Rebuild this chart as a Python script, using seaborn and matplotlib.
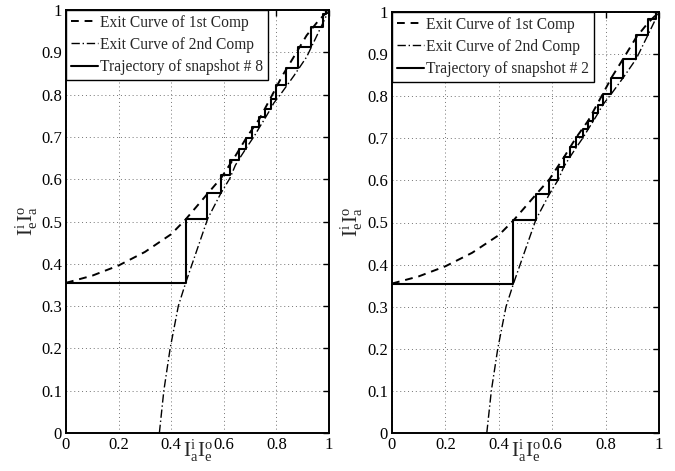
import numpy as np
import pandas as pd
import seaborn as sns
import matplotlib.pyplot as plt

# exit curve of the 1st component (dashed)
curve1_x = [0.0, 0.1, 0.2, 0.3, 0.4, 0.455, 0.54, 0.59, 0.644, 0.69, 0.735, 0.79, 0.822, 0.866, 0.915, 0.96, 1.0]
curve1_y = [0.355, 0.372, 0.396, 0.428, 0.47, 0.505, 0.567, 0.603, 0.655, 0.702, 0.742, 0.806, 0.844, 0.889, 0.94, 0.975, 1.0]

# exit curve of the 2nd component (dash-dot)
curve2_x = [0.355, 0.372, 0.396, 0.427, 0.455, 0.539, 0.589, 0.623, 0.644, 0.666, 0.691, 0.716, 0.735, 0.753,
            0.772, 0.79, 0.822, 0.866, 0.915, 0.959, 0.988, 1.0]
curve2_y = [0.0, 0.1, 0.2, 0.3, 0.355, 0.507, 0.567, 0.602, 0.633, 0.655, 0.679, 0.702, 0.722, 0.74,
            0.76, 0.78, 0.806, 0.844, 0.889, 0.946, 0.984, 1.0]

# staircase corners of the two snapshot trajectories
traj8_steps_x = [0.0, 0.455, 0.537, 0.589, 0.623, 0.658, 0.686, 0.708, 0.733, 0.756, 0.778, 0.8, 0.838, 0.882, 0.933, 0.977, 0.99]
traj8_steps_y = [0.355, 0.505, 0.567, 0.611, 0.645, 0.672, 0.698, 0.724, 0.747, 0.767, 0.79, 0.822, 0.863, 0.913, 0.96, 0.99, 1.0]

traj2_steps_x = [0.0, 0.455, 0.539, 0.589, 0.623, 0.644, 0.666, 0.691, 0.716, 0.735, 0.753, 0.772, 0.79, 0.822, 0.866, 0.915, 0.959, 0.988]
traj2_steps_y = [0.355, 0.507, 0.567, 0.602, 0.633, 0.655, 0.679, 0.702, 0.722, 0.74, 0.76, 0.78, 0.806, 0.844, 0.889, 0.946, 0.984, 1.0]

SNAPSHOTS = [8, 2]
X_TICKS = [0, 0.2, 0.4, 0.6, 0.8, 1]
Y_TICKS = [0, 0.1, 0.2, 0.3, 0.4, 0.5, 0.6, 0.7, 0.8, 0.9, 1]


def tick_fmt(v):
    return "0" if v == 0 else ("1" if v == 1 else f"{v:g}")


def staircase(xs, ys):
    # horizontal then vertical segments through the corners
    px, py = [xs[0]], [ys[0]]
    for i in range(1, len(xs)):
        px += [xs[i], xs[i]]
        py += [ys[i - 1], ys[i]]
    return pd.DataFrame({"x": px, "y": py})


sns.set_theme(style="white")
plt.rcParams["font.family"] = ["Liberation Serif", "DejaVu Serif"]
plt.rcParams["mathtext.fontset"] = "custom"
plt.rcParams["mathtext.rm"] = "Liberation Serif"
plt.rcParams["mathtext.it"] = "Liberation Serif:italic"

fig = plt.figure(figsize=(6.75, 4.71), dpi=100)
ax_l = fig.add_axes([66 / 675, 38 / 471, 263 / 675, 423 / 471])
ax_r = fig.add_axes([392 / 675, 38 / 471, 267 / 675, 421 / 471])

c1 = pd.DataFrame({"x": curve1_x, "y": curve1_y})
c2 = pd.DataFrame({"x": curve2_x, "y": curve2_y})
trajs = [staircase(traj8_steps_x, traj8_steps_y), staircase(traj2_steps_x, traj2_steps_y)]

for ax, tr, snap in zip([ax_l, ax_r], trajs, SNAPSHOTS):
    sns.lineplot(data=c1, x="x", y="y", sort=False, estimator=None, ax=ax, color="black", lw=1.4,
                 linestyle=(0, (4, 3)), label="Exit Curve of 1st Comp")
    sns.lineplot(data=c2, x="x", y="y", sort=False, estimator=None, ax=ax, color="black", lw=1.0,
                 linestyle=(0, (6, 2, 1, 2)), label="Exit Curve of 2nd Comp")
    sns.lineplot(data=tr, x="x", y="y", sort=False, estimator=None, ax=ax, color="black", lw=1.5,
                 label=f"Trajectory of snapshot # {snap}")

    ax.set_xlim(0, 1)
    ax.set_ylim(0, 1)
    ax.set_xticks(X_TICKS)
    ax.set_xticklabels([tick_fmt(v) for v in X_TICKS])
    ax.set_yticks(Y_TICKS)
    ax.set_yticklabels([tick_fmt(v) for v in Y_TICKS])
    ax.grid(True, linestyle=(0, (1, 3)), color="0.45", lw=0.7)
    ax.tick_params(direction="in", length=4, width=1, top=True, right=True,
                   labelsize=12, pad=3, color="black", labelcolor="black")
    for s in ax.spines.values():
        s.set_color("black")
        s.set_linewidth(1.4)

    ax.set_xlabel(r"$\mathrm{I}^{\mathrm{i}}_{\mathrm{a}}\mathrm{I}^{\mathrm{o}}_{\mathrm{e}}$", fontsize=15)
    ax.set_ylabel(r"$\mathrm{I}^{\mathrm{i}}_{\mathrm{e}}\mathrm{I}^{\mathrm{o}}_{\mathrm{a}}$", fontsize=15)
    ax.xaxis.set_label_coords(0.5, -0.012)
    ax.yaxis.set_label_coords(-0.1, 0.5)

    leg = ax.legend(loc="upper left", borderaxespad=0, fontsize=11.2, frameon=True,
                    fancybox=False, handlelength=1.75, handletextpad=0.15,
                    borderpad=0.3, labelspacing=0.4)
    leg.get_frame().set_edgecolor("black")
    leg.get_frame().set_linewidth(1.0)
    leg.get_frame().set_alpha(1.0)

fig.savefig("out.png", dpi=100)
